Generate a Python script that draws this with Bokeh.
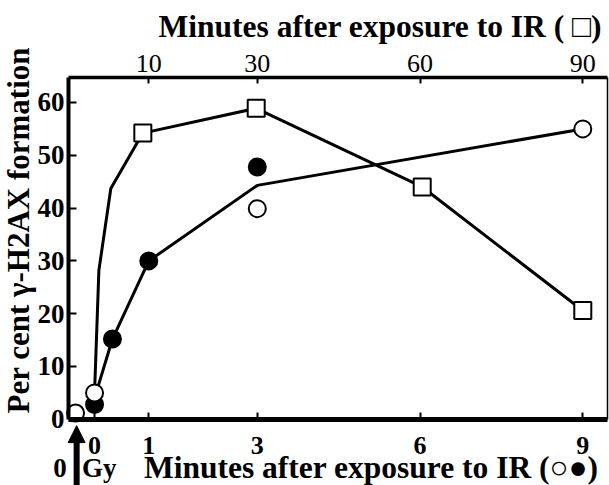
from bokeh.plotting import figure
from bokeh.models import (Range1d, LinearAxis, FixedTicker, Label, Arrow, NormalHead)
from bokeh.embed import file_html
from bokeh.resources import INLINE
import math

# ---- data ----
# open circles (minutes after IR, bottom axis); first point is the 0 Gy control
open_x = [-0.35, 0.0, 3.0, 9.0]
open_y = [1.2, 5.0, 39.9, 55.0]
# filled circles
filled_x = [0.0, 0.33, 1.0, 3.0]
filled_y = [2.8, 15.2, 30.0, 47.8]
# line through the circle series (mean)
cline_x = [0.0, 0.33, 1.0, 3.0, 9.0]
cline_y = [4.0, 15.2, 30.0, 44.3, 55.0]
# squares (minutes after IR, top axis)
sq_x = [8.9, 29.8, 60.4, 90.0]
sq_y = [54.2, 58.9, 44.0, 20.6]
# line through the square series
sline_x = [0.0, 0.8, 3.0, 8.9, 29.8, 60.4, 90.0]
sline_y = [5.0, 28.2, 43.7, 54.2, 58.9, 44.0, 20.6]

bottom_ticks = [0, 1, 3, 6, 9]
top_ticks = [10, 30, 60, 90]
y_ticks = [0, 10, 20, 30, 40, 50, 60]

# axis extents (data units)
X_LO, X_HI = -0.48, 9.45
Y_LO, Y_HI = 0.0, 64.8
TOP_FACTOR = 10.0

FONT = "Liberation Serif"

# the frame covers the whole canvas; axes are drawn at fixed locations inside it
XS, XE = -1.7335, 9.4924
YS, YE = -12.538, 79.318
p = figure(width=609, height=485, output_backend="svg", toolbar_location=None,
           x_range=Range1d(XS, XE), y_range=Range1d(YS, YE),
           min_border_left=0, min_border_right=0, min_border_top=0, min_border_bottom=0)
p.background_fill_color = "white"
p.border_fill_color = "white"
p.outline_line_color = None
p.xgrid.visible = False
p.ygrid.visible = False

p.extra_x_ranges = {"top": Range1d(XS * TOP_FACTOR, XE * TOP_FACTOR)}

def style_axis(ax, lw, size, bold=True, standoff=4, tick_in=7):
    ax.axis_line_width = lw
    ax.axis_line_color = "black"
    ax.major_tick_in = tick_in
    ax.major_tick_out = 0
    ax.major_tick_line_width = 2
    ax.minor_tick_line_color = None
    ax.major_label_text_font = FONT
    ax.major_label_text_font_style = "bold" if bold else "normal"
    ax.major_label_text_font_size = size
    ax.major_label_text_color = "black"
    ax.major_label_standoff = standoff

# bottom axis
xa = p.xaxis[0]
xa.ticker = FixedTicker(ticks=bottom_ticks)
xa.fixed_location = Y_LO
xa.bounds = (X_LO, X_HI)
style_axis(xa, 5, "26px", True, 18, 7)

# left axis
ya = p.yaxis[0]
ya.ticker = FixedTicker(ticks=y_ticks)
ya.fixed_location = X_LO
ya.bounds = (Y_LO, Y_HI)
style_axis(ya, 4, "27px", True, 4, 8)

# top axis (minutes, squares)
ta = LinearAxis(x_range_name="top", ticker=FixedTicker(ticks=top_ticks))
ta.fixed_location = Y_HI
ta.bounds = (X_LO * TOP_FACTOR, X_HI * TOP_FACTOR)
style_axis(ta, 3.5, "26px", False, 5, 6)
p.add_layout(ta, "above")

# right border
ra = LinearAxis(ticker=FixedTicker(ticks=[]))
ra.fixed_location = X_HI
ra.bounds = (Y_LO, Y_HI)
ra.axis_line_width = 1.5
ra.major_tick_line_color = None
ra.minor_tick_line_color = None
ra.major_label_text_font_size = "0px"
p.add_layout(ra, "right")

# lines
p.line(sline_x, sline_y, x_range_name="top", line_color="black", line_width=3)
p.line(cline_x, cline_y, line_color="black", line_width=3)

# markers
p.scatter(sq_x, sq_y, x_range_name="top", marker="square", size=17,
          fill_color="white", line_color="black", line_width=2)
p.scatter(filled_x, filled_y, marker="circle", size=17,
          fill_color="black", line_color="black", line_width=2)
p.scatter(open_x, open_y, marker="circle", size=17,
          fill_color="white", line_color="black", line_width=2)

# titles
def lab(text, x, y, size, angle=0, style="bold"):
    l = Label(x=x, y=y, text=text, text_font=FONT, text_font_size=size,
              text_font_style=style, text_color="black", angle=angle,
              text_align="left", text_baseline="alphabetic")
    p.add_layout(l)
    return l

NB = "\u00a0"
lab("Minutes after exposure to IR " + "(" + NB + "\u25a1)", 1.18, 74.3, "31.5px")
lab("Minutes after exposure to IR " + "(\u25cb\u25cf)", 0.91, -9.1, "31.5px")
lab("Per cent \u03b3-H2AX formation", -1.40, 1.1, "31px", angle=math.pi / 2)
lab("0", -0.76, -9.3, "27px")
lab("Gy", -0.23, -9.3, "27px")

p.add_layout(Arrow(end=NormalHead(size=17, fill_color="black", line_color="black"),
                   x_start=-0.33, y_start=-13.5, x_end=-0.33, y_end=-1.2,
                   line_width=6, line_color="black"))

open("out.html", "w").write(file_html(p, INLINE))
